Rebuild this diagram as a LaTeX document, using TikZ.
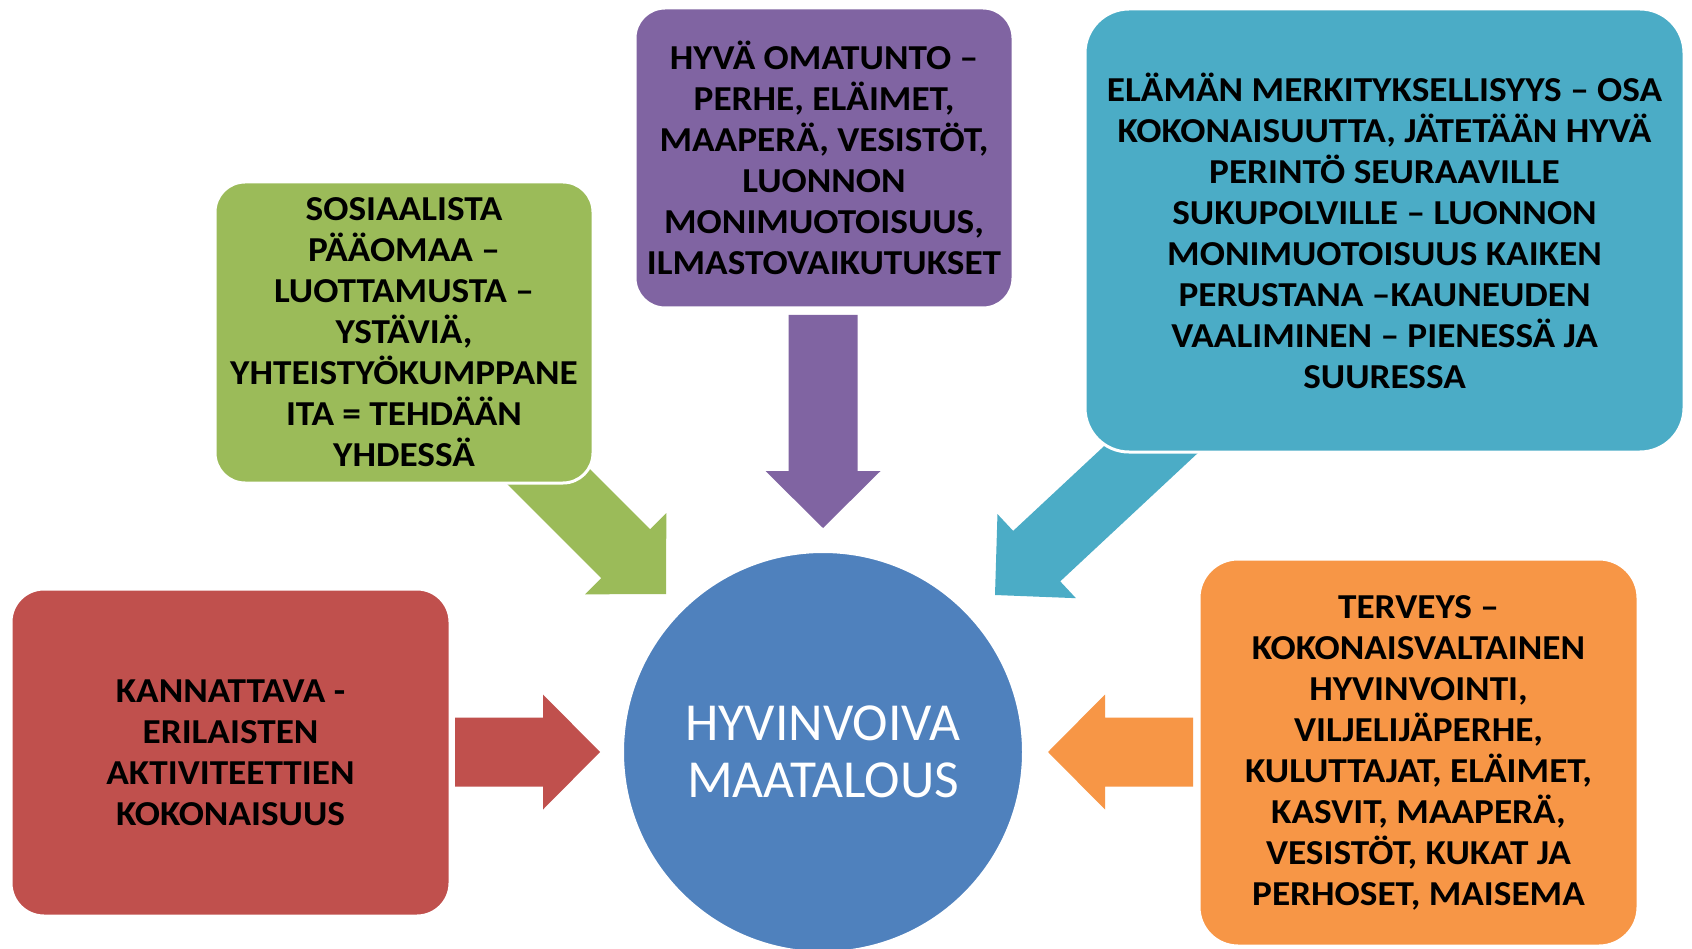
\documentclass[tikz,border=0pt]{standalone}
\usepackage{fontspec}
\setmainfont{Carlito}[BoldFeatures={FakeStretch=1.065}]
\usepackage{tikz}

\definecolor{redbox}{HTML}{C0504D}
\definecolor{greenbox}{HTML}{9BBB59}
\definecolor{purplebox}{HTML}{8064A2}
\definecolor{aquabox}{HTML}{4BACC6}
\definecolor{orangebox}{HTML}{F79646}
\definecolor{bluecircle}{HTML}{4F81BD}

% block arrow: tip, direction, length, colour
\newcommand{\blockarrow}[4]{%
	\fill[#4, shift={#1}, rotate=#2] (0,0) -- (-57,57.5) -- (-57,34.5) -- (-#3,34.5)
		-- (-#3,-34.5) -- (-57,-34.5) -- (-57,-57.5) -- cycle;}

\tikzset{
	box/.style={rectangle, rounded corners=30pt, draw=white, line width=3pt, inner sep=0pt,
		align=center, text=black, font=\fontsize{35}{41}\selectfont\bfseries},
	hub/.style={circle, fill=bluecircle, draw=white, line width=2pt, inner sep=0pt,
		minimum size=400pt, align=center, text=white, font=\fontsize{53.5}{57.3}\selectfont}
}

\begin{document}
\begin{tikzpicture}[x=1pt,y=-1pt]
	\fill[white] (0,0) rectangle (1692,949);
	\useasboundingbox (0,0) rectangle (1692,949);

	% arrows go under the boxes
	\blockarrow{(666,594)}{-45}{200}{greenbox}     % green
	\blockarrow{(823,528)}{-90}{213}{purplebox}    % purple
	\blockarrow{(995,595)}{223}{280}{aquabox}      % aqua
	\blockarrow{(600,752)}{0}{145}{redbox}         % red
	\blockarrow{(1048,752)}{180}{145}{orangebox}   % orange

	\node[box, fill=greenbox, minimum width=378pt, minimum height=301pt] (social) at (404,332.5)
		{SOSIAALISTA\\PÄÄOMAA –\\LUOTTAMUSTA –\\YSTÄVIÄ,\\YHTEISTYÖKUMPPANE\\ITA = TEHDÄÄN\\YHDESSÄ};
	\node[box, fill=purplebox, minimum width=378pt, minimum height=300pt] (conscience) at (824,158)
		{HYVÄ OMATUNTO –\\PERHE, ELÄIMET,\\MAAPERÄ, VESISTÖT,\\LUONNON\\MONIMUOTOISUUS,\\ILMASTOVAIKUTUKSET};
	\node[box, fill=aquabox, rounded corners=44pt, minimum width=599pt, minimum height=443pt] (meaning) at (1384.5,230.5)
		{ELÄMÄN MERKITYKSELLISYYS – OSA\\KOKONAISUUTTA, JÄTETÄÄN HYVÄ\\PERINTÖ SEURAAVILLE\\SUKUPOLVILLE – LUONNON\\MONIMUOTOISUUS KAIKEN\\PERUSTANA –KAUNEUDEN\\VAALIMINEN – PIENESSÄ JA\\SUURESSA};
	\node[box, fill=redbox, rounded corners=33pt, minimum width=439pt, minimum height=327pt] (profit) at (230.5,752.5)
		{KANNATTAVA -\\ERILAISTEN\\AKTIVITEETTIEN\\KOKONAISUUS};
	\node[box, fill=orangebox, rounded corners=39pt, minimum width=439pt, minimum height=387pt] (health) at (1418.5,752.5)
		{TERVEYS –\\KOKONAISVALTAINEN\\HYVINVOINTI,\\VILJELIJÄPERHE,\\KULUTTAJAT, ELÄIMET,\\KASVIT, MAAPERÄ,\\VESISTÖT, KUKAT JA\\PERHOSET, MAISEMA};

	\node[hub] (farm) at (823,752) {HYVINVOIVA\\MAATALOUS};
\end{tikzpicture}
\end{document}
